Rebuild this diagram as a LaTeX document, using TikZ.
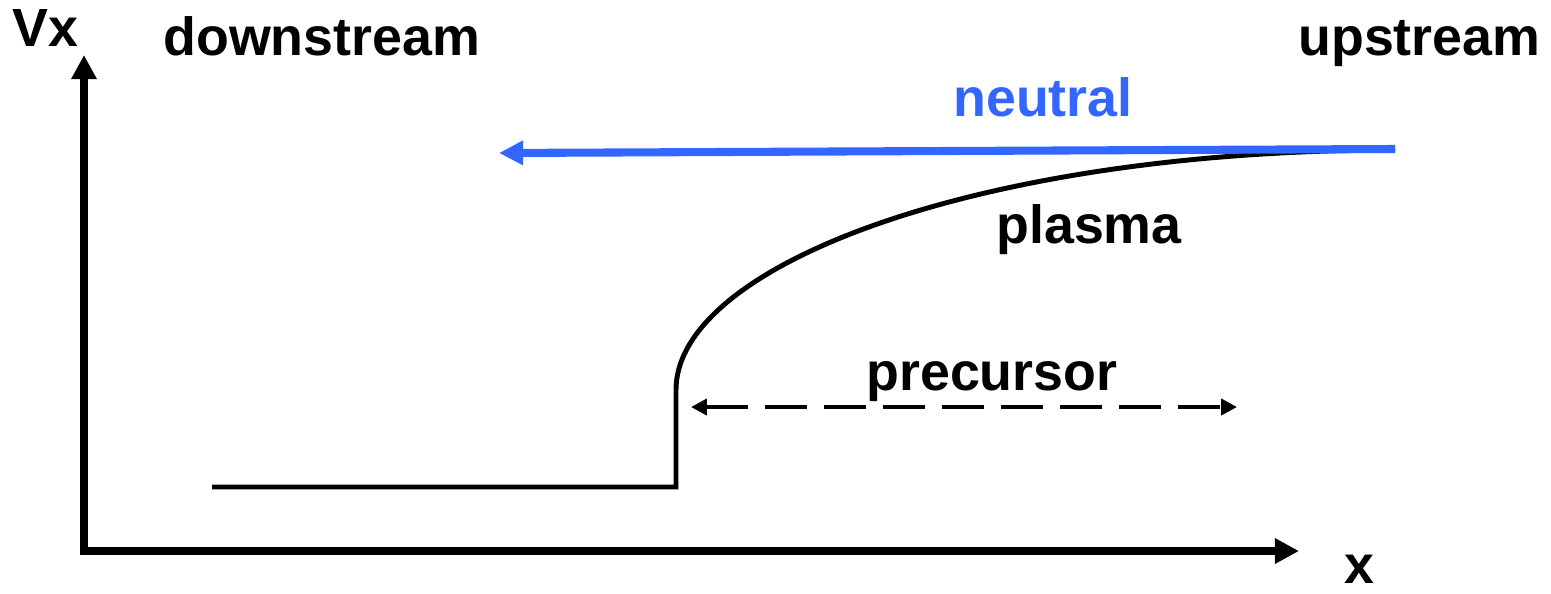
\documentclass[tikz,border=0pt]{standalone}
\usepackage{fontspec}
\setmainfont{Liberation Sans}
\usepackage{xcolor}
\usetikzlibrary{arrows.meta}
\definecolor{neutralblue}{RGB}{51,102,255}

\begin{document}
\begin{tikzpicture}[x=0.02cm,y=-0.02cm,
  lbl/.style={anchor=base west,inner sep=0pt,font=\fontsize{30.6}{36}\selectfont\bfseries},
  axis/.style={line width=4.5pt,{Triangle[length=13.7pt,width=13.7pt]}-{Triangle[length=13.7pt,width=13.7pt]}},
  plasmaline/.style={line width=2.8pt,line join=miter},
  neutralline/.style={line width=4.6pt,neutralblue,-{Triangle[length=13.7pt,width=13.2pt]}},
  spanline/.style={line width=2.8pt,dash pattern=on 0.84cm off 0.34cm,{Triangle[length=9pt,width=9pt]}-{Triangle[length=9pt,width=9pt]}}]
\useasboundingbox (0,0) rectangle (1551,593);

% Axes
\coordinate (ytip) at (84,55);
\coordinate (xtip) at (1299,551);
\draw[axis] (ytip) |- (xtip);

% Labels
\node[lbl] (vx) at (12,46) {Vx};
\node[lbl] (down) at (163,55) {downstream};
\node[lbl] (up) at (1298,55) {upstream};
\node[lbl,text=neutralblue] (neutral) at (953,116) {neutral};
\node[lbl] (plasma) at (996,243) {plasma};
\node[lbl] (precursor) at (866,390) {precursor};
\node[lbl] (xlbl) at (1344,583) {x};

% Plasma profile
\coordinate (dleft) at (212,487);
\coordinate (jump) at (676,487);
\coordinate (jumptop) at (676,390);
\coordinate (ufar) at (1395,150);
\draw[plasmaline] (dleft) -- (jump) -- (jumptop) .. controls (676,265) and (980,150) .. (ufar);

% Neutral flow
\coordinate (nstart) at (1395,149);
\coordinate (nend) at (499,153);
\draw[neutralline] (nstart) -- (nend);

% Precursor extent
\coordinate (pleft) at (691,407);
\coordinate (pright) at (1237,407);
\draw[spanline] (pleft) -- (pright);

\end{tikzpicture}
\end{document}
